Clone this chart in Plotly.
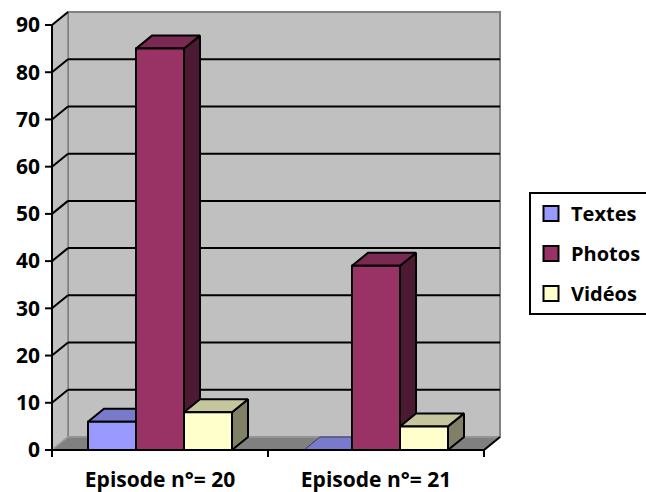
import plotly.graph_objects as go

# Data
categories = ["Episode n°= 20", "Episode n°= 21"]
series_names = ["Textes", "Photos", "Vidéos"]
textes = [6, 0]
photos = [85, 39]
videos = [8, 5]
y_ticks = [0, 10, 20, 30, 40, 50, 60, 70, 80, 90]

# Face colours: front, top, side
face_colors = {
    "Textes": ("#9999FF", "#7A7ACC", "#4D4D80"),
    "Photos": ("#993366", "#7A2952", "#4D1A33"),
    "Vidéos": ("#FFFFCC", "#C6C69E", "#808066"),
}

# Oblique 3D projection parameters, in axis units
PX_PER_X = 216.0
PX_PER_Y = 425.0 / 90.0
DX = 16 / PX_PER_X          # depth offset along x
DY = 13 / PX_PER_Y          # depth offset along y
BAR_W = 48 / PX_PER_X
Y_MAX = 90

x_left, x_right = -0.5, len(categories) - 0.5

# plot area (margins) and ranges derived from the pixel scales
M_L, M_R, M_T, M_B = 44, 144, 10, 32
W, H = 646, 492
plot_w = W - M_L - M_R
plot_h = H - M_T - M_B
x_min = x_left - (52 - M_L) / PX_PER_X
x_max = x_min + plot_w / PX_PER_X
y_min = -(M_T + plot_h - 450) / PX_PER_Y
y_max = y_min + plot_h / PX_PER_Y

fig = go.Figure()


def poly(xs, ys, fill, line="black", width=2):
    fig.add_trace(go.Scatter(
        x=list(xs) + [xs[0]], y=list(ys) + [ys[0]],
        mode="lines", fill="toself", fillcolor=fill,
        line=dict(color=line, width=width),
        hoverinfo="skip", showlegend=False,
    ))


def lines(segs, color="black", width=2):
    xs, ys = [], []
    for (x0, y0), (x1, y1) in segs:
        xs += [x0, x1, None]
        ys += [y0, y1, None]
    fig.add_trace(go.Scatter(
        x=xs, y=ys, mode="lines", line=dict(color=color, width=width),
        hoverinfo="skip", showlegend=False,
    ))


# Walls and floor
poly([x_left + DX, x_right + DX, x_right + DX, x_left + DX],
     [DY, DY, Y_MAX + DY, Y_MAX + DY], "#C0C0C0", "#808080", 2)
poly([x_left, x_left, x_left + DX, x_left + DX],
     [0, Y_MAX, Y_MAX + DY, DY], "#C0C0C0", "#808080", 1.5)
poly([x_left, x_right, x_right + DX, x_left + DX],
     [0, 0, DY, DY], "#808080", "#9A9A9A", 1.5)

# Gridlines on the back wall and the diagonals on the side wall
grid = []
for v in y_ticks[1:-1]:
    grid.append(((x_left + DX, v + DY), (x_right + DX, v + DY)))
for v in y_ticks[1:]:
    grid.append(((x_left, v), (x_left + DX, v + DY)))
lines(grid, "black", 2)

# Bars (painted left to right so nearer faces overlap correctly)
values = {"Textes": textes, "Photos": photos, "Vidéos": videos}
offsets = [-BAR_W, 0, BAR_W]
for ci in range(len(categories)):
    for si, name in enumerate(series_names):
        v = values[name][ci]
        front, top, side = face_colors[name]
        x0 = ci + offsets[si] - BAR_W / 2
        x1 = x0 + BAR_W
        if v > 0:
            poly([x1, x1 + DX, x1 + DX, x1], [0, DY, v + DY, v], side)
            poly([x0, x1, x1 + DX, x0 + DX], [v, v, v + DY, v + DY], top)
            poly([x0, x1, x1, x0], [0, 0, v, v], front)
        else:
            poly([x0, x1, x1 + DX, x0 + DX], [0, 0, DY, DY], top, "#3A3A66", 1)

# Axis lines and tick marks
tick_x = 7 / PX_PER_X
tick_y = 7 / PX_PER_Y
axis = [((x_left, -tick_y), (x_left, Y_MAX)), ((x_left, 0), (x_right, 0))]
axis += [((x_left - tick_x, v), (x_left, v)) for v in y_ticks]
axis += [((x_left + k, 0), (x_left + k, -tick_y)) for k in range(len(categories) + 1)]
axis += [((x_right, 0), (x_right + DX, DY))]
lines(axis, "black", 2)

# Legend entries
for name in series_names:
    fig.add_trace(go.Scatter(
        x=[None], y=[None], mode="markers", name=name, legendgroup=name,
        marker=dict(symbol="square", size=15, color=face_colors[name][0],
                    line=dict(color="black", width=2)),
    ))

font_bold = dict(family="Open Sans", size=21, color="black", weight="bold")
legend_font = dict(family="Open Sans", size=20, color="black", weight="bold")

fig.update_layout(
    template="none",
    width=W, height=H, autosize=False,
    margin=dict(l=M_L, r=M_R, t=M_T, b=M_B, autoexpand=False),
    paper_bgcolor="white", plot_bgcolor="white",
    showlegend=True,
    legend=dict(
        x=(529 - M_L) / plot_w, xanchor="left",
        y=(M_T + plot_h - 192) / plot_h, yanchor="top",
        bgcolor="white", bordercolor="black", borderwidth=2,
        font=legend_font, tracegroupgap=11, itemwidth=30,
    ),
    xaxis=dict(range=[x_min, x_max], showgrid=False, zeroline=False,
               showline=False, tickvals=list(range(len(categories))),
               ticktext=categories, ticks="", tickfont=font_bold,
               ticklabelstandoff=5, automargin=False, fixedrange=True),
    yaxis=dict(range=[y_min, y_max], showgrid=False, zeroline=False,
               showline=False, tickvals=y_ticks, ticks="", tickfont=font_bold,
               ticklabelstandoff=3, automargin=False, fixedrange=True),
)

fig.write_html("out.html")
